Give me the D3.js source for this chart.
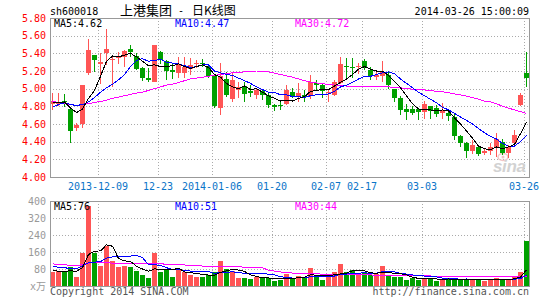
<!DOCTYPE html>
<html>
<head>
<meta charset="utf-8">
<script src="https://cdn.jsdelivr.net/npm/d3@7"></script>
<style>
body { margin: 0; background: #fff; }
svg text { font-family: "DejaVu Sans Mono", "Noto Sans CJK SC", monospace; font-size: 10px; }
</style>
</head>
<body>
<svg id="chart" width="545" height="300"></svg>
<script>
// trading days shown (80 candles)
const dates = [
  "2013-11-27","2013-11-28","2013-11-29","2013-12-02","2013-12-03","2013-12-04","2013-12-05","2013-12-06","2013-12-09","2013-12-10",
  "2013-12-11","2013-12-12","2013-12-13","2013-12-16","2013-12-17","2013-12-18","2013-12-19","2013-12-20","2013-12-23","2013-12-24",
  "2013-12-25","2013-12-26","2013-12-27","2013-12-30","2013-12-31","2014-01-02","2014-01-03","2014-01-06","2014-01-07","2014-01-08",
  "2014-01-09","2014-01-10","2014-01-13","2014-01-14","2014-01-15","2014-01-16","2014-01-17","2014-01-20","2014-01-21","2014-01-22",
  "2014-01-23","2014-01-24","2014-01-27","2014-01-28","2014-01-29","2014-01-30","2014-02-07","2014-02-10","2014-02-11","2014-02-12",
  "2014-02-13","2014-02-14","2014-02-17","2014-02-18","2014-02-19","2014-02-20","2014-02-21","2014-02-24","2014-02-25","2014-02-26",
  "2014-02-27","2014-02-28","2014-03-03","2014-03-04","2014-03-05","2014-03-06","2014-03-07","2014-03-10","2014-03-11","2014-03-12",
  "2014-03-13","2014-03-14","2014-03-17","2014-03-18","2014-03-19","2014-03-20","2014-03-21","2014-03-24","2014-03-25","2014-03-26"
];

const open = [
  4.83,4.83,4.86,4.77,4.55,4.60,5.18,5.38,5.28,5.40,
  5.32,5.35,5.36,5.45,5.37,5.23,5.12,5.08,5.42,5.31,
  5.21,5.18,5.18,5.22,5.28,5.29,5.26,5.14,4.78,5.11,
  4.88,4.99,5.03,4.97,4.93,4.97,4.93,4.82,4.82,4.83,
  4.96,4.91,4.93,4.92,5.06,5.04,4.95,4.93,5.06,5.26,
  5.24,5.24,5.31,5.21,5.13,5.14,5.15,5.00,4.90,4.77,
  4.77,4.77,4.74,4.80,4.78,4.73,4.72,4.68,4.46,4.39,
  4.30,4.34,4.27,4.30,4.33,4.40,4.27,4.39,4.82,5.18
];
const high = [
  4.95,4.95,4.94,4.78,4.61,5.04,5.56,5.38,5.40,5.68,
  5.38,5.42,5.44,5.50,5.40,5.25,5.23,5.50,5.43,5.32,
  5.28,5.36,5.36,5.35,5.33,5.34,5.27,5.15,5.29,5.19,
  5.19,5.08,5.08,5.04,5.00,5.00,4.95,4.83,4.87,5.04,
  5.01,5.06,4.98,5.16,5.10,5.05,4.99,5.10,5.36,5.35,
  5.35,5.29,5.34,5.25,5.21,5.31,5.19,5.00,4.92,4.83,
  4.80,4.78,4.86,4.80,4.81,4.84,4.74,4.71,4.47,4.40,
  4.42,4.35,4.32,4.38,4.50,4.43,4.36,4.53,4.95,5.41
];
const low = [
  4.76,4.80,4.79,4.39,4.52,4.55,5.16,5.19,5.05,5.27,
  5.02,5.28,5.25,5.36,5.21,5.09,5.08,5.07,5.28,5.10,
  5.11,5.12,5.12,5.15,5.23,5.24,5.12,4.78,4.70,4.91,
  4.85,4.89,4.85,4.91,4.88,4.87,4.78,4.75,4.76,4.81,
  4.89,4.85,4.85,4.88,4.98,4.89,4.85,4.92,5.05,5.10,
  5.12,5.17,5.21,5.10,5.10,5.08,5.00,4.85,4.70,4.64,
  4.70,4.64,4.66,4.66,4.68,4.66,4.63,4.42,4.34,4.21,
  4.26,4.24,4.25,4.25,4.23,4.25,4.21,4.34,4.80,5.02
];
const close = [
  4.86,4.85,4.85,4.52,4.59,5.04,5.44,5.32,5.30,5.45,
  5.34,5.37,5.43,5.42,5.22,5.12,5.10,5.49,5.33,5.20,
  5.19,5.27,5.24,5.27,5.29,5.28,5.14,4.80,5.14,4.93,
  5.10,5.02,4.94,4.95,4.98,4.93,4.82,4.79,4.81,4.98,
  4.91,4.95,4.91,5.08,5.04,4.97,4.96,5.08,5.28,5.24,
  5.23,5.26,5.23,5.14,5.16,5.19,5.04,4.89,4.76,4.74,
  4.72,4.74,4.83,4.75,4.71,4.76,4.69,4.46,4.39,4.30,
  4.36,4.26,4.30,4.34,4.43,4.27,4.34,4.48,4.93,5.12
];

const ma5 = [
  4.85,4.84,4.85,4.78,4.73,4.77,4.89,4.98,5.14,5.31,
  5.37,5.36,5.38,5.40,5.36,5.31,5.26,5.27,5.25,5.25,
  5.26,5.28,5.25,5.23,5.25,5.27,5.24,5.16,5.13,5.06,
  5.02,5.00,5.03,4.99,5.00,4.96,4.92,4.89,4.86,4.87,
  4.86,4.89,4.91,4.97,4.98,4.99,4.99,5.03,5.07,5.11,
  5.16,5.22,5.25,5.22,5.20,5.20,5.15,5.08,5.01,4.92,
  4.83,4.77,4.76,4.76,4.75,4.76,4.75,4.67,4.60,4.52,
  4.44,4.35,4.32,4.31,4.34,4.32,4.34,4.37,4.49,4.62
];
const ma10 = [
  4.79,4.82,4.84,4.82,4.81,4.82,4.85,4.90,4.96,5.01,
  5.05,5.10,5.16,5.25,5.32,5.34,5.31,5.32,5.33,5.30,
  5.29,5.28,5.26,5.24,5.25,5.27,5.27,5.20,5.18,5.16,
  5.15,5.12,5.09,5.06,5.02,4.99,4.96,4.96,4.93,4.93,
  4.91,4.91,4.90,4.92,4.93,4.93,4.94,4.97,5.02,5.04,
  5.07,5.11,5.14,5.14,5.16,5.18,5.19,5.17,5.11,5.06,
  5.01,4.96,4.92,4.88,4.84,4.79,4.76,4.72,4.68,4.64,
  4.60,4.55,4.50,4.46,4.43,4.38,4.35,4.35,4.40,4.47
];
const ma30 = [
  4.86,4.84,4.83,4.82,4.81,4.82,4.83,4.845,4.855,4.87,
  4.89,4.905,4.92,4.935,4.95,4.96,4.98,5.00,5.02,5.04,
  5.05,5.07,5.09,5.11,5.12,5.13,5.14,5.15,5.16,5.17,
  5.18,5.185,5.19,5.195,5.20,5.20,5.19,5.175,5.16,5.145,
  5.13,5.11,5.09,5.075,5.065,5.055,5.05,5.04,5.035,5.03,
  5.03,5.03,5.03,5.025,5.02,5.02,5.02,5.015,5.01,5.00,
  4.995,4.99,4.985,4.98,4.97,4.965,4.955,4.94,4.93,4.915,
  4.90,4.88,4.86,4.85,4.83,4.80,4.78,4.76,4.74,4.72
];

// volume, 万手
const volume = [
  64,72,72,91,44,154,378,154,96,188,
  119,91,96,88,72,53,38,154,67,77,
  44,80,64,53,44,41,53,64,119,80,
  72,38,36,33,44,38,38,22,28,56,
  38,49,38,85,44,28,44,64,104,64,
  77,56,60,53,56,96,49,44,44,28,
  38,28,38,38,25,33,33,33,28,33,
  33,28,22,28,38,28,33,44,67,213
];
const volMa5 = [
  72,70,69,72,69,87,148,164,165,194,
  187,130,118,116,93,80,69,81,77,78,
  76,84,66,64,57,56,51,51,64,71,
  78,75,69,52,45,38,38,35,34,36,
  36,39,42,53,51,49,48,53,57,61,
  71,73,72,62,60,64,63,60,58,52,
  41,36,35,34,33,32,33,32,30,32,
  32,31,29,29,30,29,30,34,42,76
];
const volMa10 = [
  91,89,86,82,80,95,110,112,115,131,
  137,139,141,141,144,134,100,100,97,86,
  78,77,74,70,67,66,68,59,64,64,
  67,63,60,58,58,58,56,52,43,41,
  37,38,38,44,44,43,43,47,55,56,
  60,60,63,59,61,67,68,66,60,56,
  52,50,47,46,43,37,35,34,32,33,
  32,32,31,30,31,30,30,32,35,51
];
const volMa30 = [
  104,102,100,97,97,100,108,110,109,109,
  108,108,108,108,108,107,106,105,104,103,
  101,100,99,97,96,94,93,92,93,93,
  91,90,89,88,86,85,75,70,66,63,
  61,60,59,58,57,56,55,55,55,54,
  54,53,52,52,51,51,51,51,50,50,
  49,48,48,47,47,46,46,45,45,45,
  45,45,44,44,44,44,44,44,44,44
];

const priceTicks = [4.0, 4.2, 4.4, 4.6, 4.8, 5.0, 5.2, 5.4, 5.6, 5.8];
const volTicks = [0, 80, 160, 240, 320, 400];
const tickDates = ["2013-12-09","2013-12-23","2014-01-06","2014-01-20","2014-02-07","2014-02-17","2014-03-03","2014-03-26"];
const tickLabels = ["2013-12-09","12-23","2014-01-06","01-20","02-07","02-17","03-03","03-26"];

const UP = "#ff5555", DOWN = "#00a000";
const GRID = "#aaa", FRAME = "#999";

const svg = d3.select("#chart");
svg.append("rect").attr("width", 545).attr("height", 300).attr("fill", "#fff");

const left = 50, right = 529;
const pTop = 18, pBottom = 177;
const vTop = 201, vBottom = 286;

const x = d3.scaleBand().domain(dates).range([49, 529])
    .paddingInner(1 / 6).paddingOuter(1 / 12);
const xc = d => x(d) + x.bandwidth() / 2;

const yP = d3.scaleLinear().domain([4.0, 5.8]).range([pBottom, pTop]);
const yV = d3.scaleLinear().domain([0, 400]).range([vBottom, vTop]);

const crisp = v => Math.round(v) + 0.5;

// grid lines
const grid = svg.append("g")
    .attr("stroke", GRID)
    .attr("stroke-dasharray", "1,2")
    .attr("shape-rendering", "crispEdges");

grid.selectAll(".hp").data(priceTicks.slice(1, -1)).join("line")
    .attr("x1", left).attr("x2", right)
    .attr("y1", d => crisp(yP(d))).attr("y2", d => crisp(yP(d)));

grid.selectAll(".hv").data(volTicks.slice(1, -1)).join("line")
    .attr("class", "hv")
    .attr("x1", left).attr("x2", right)
    .attr("y1", d => crisp(yV(d))).attr("y2", d => crisp(yV(d)));

tickDates.forEach(d => {
    const gx = crisp(xc(d) - 2);
    grid.append("line").attr("x1", gx).attr("x2", gx).attr("y1", pTop).attr("y2", pBottom);
    grid.append("line").attr("x1", gx).attr("x2", gx).attr("y1", vTop).attr("y2", vBottom);
});

// sina watermark
const wm = svg.append("g");
wm.append("ellipse").attr("cx", 503).attr("cy", 157).attr("rx", 5).attr("ry", 3.5)
    .attr("fill", "none").attr("stroke", "#f2c6c6").attr("stroke-width", 1.5);
wm.append("circle").attr("cx", 503).attr("cy", 157).attr("r", 1.5).attr("fill", "#f2c6c6");
wm.append("text").attr("x", 493).attr("y", 172)
    .attr("textLength", 33)
    .style("font-family", "'Liberation Sans', Arial, sans-serif")
    .style("font-size", "17px").style("font-weight", "bold").style("font-style", "italic")
    .attr("fill", "#d2d2d2").text("sina");

// volume bars
svg.append("g").attr("shape-rendering", "crispEdges")
    .selectAll("rect").data(dates).join("rect")
    .attr("x", d => xc(d) - 2)
    .attr("width", 5)
    .attr("y", (d, i) => yV(volume[i]))
    .attr("height", (d, i) => yV(0) - yV(volume[i]))
    .attr("fill", (d, i) => close[i] >= open[i] ? UP : DOWN);

// candles
const candles = svg.append("g").attr("shape-rendering", "crispEdges")
    .selectAll("g").data(dates).join("g");

candles.append("line")
    .attr("x1", d => xc(d) + 0.5).attr("x2", d => xc(d) + 0.5)
    .attr("y1", (d, i) => yP(high[i])).attr("y2", (d, i) => yP(low[i]))
    .attr("stroke", (d, i) => close[i] >= open[i] ? UP : DOWN);

candles.append("rect")
    .attr("x", d => xc(d) - 2)
    .attr("width", 5)
    .attr("y", (d, i) => yP(Math.max(open[i], close[i])))
    .attr("height", (d, i) => Math.max(1, Math.abs(yP(open[i]) - yP(close[i]))))
    .attr("fill", (d, i) => close[i] >= open[i] ? UP : DOWN);

// moving averages
function maLine(yScale, values, color) {
    const line = d3.line()
        .x((d, i) => xc(dates[i]) + 0.5)
        .y(d => yScale(d));
    svg.append("path")
        .attr("d", line(values))
        .attr("fill", "none")
        .attr("stroke", color)
        .attr("stroke-width", 1)
        .attr("shape-rendering", "crispEdges");
}
maLine(yP, ma30, "#ff00ff");
maLine(yP, ma10, "#0000ff");
maLine(yP, ma5, "#000");
maLine(yV, volMa30, "#ff00ff");
maLine(yV, volMa10, "#0000ff");
maLine(yV, volMa5, "#000");

// frames
svg.append("rect")
    .attr("x", left + 0.5).attr("y", pTop + 0.5)
    .attr("width", right - left).attr("height", pBottom - pTop)
    .attr("fill", "none").attr("stroke", FRAME).attr("shape-rendering", "crispEdges");
svg.append("rect")
    .attr("x", left + 0.5).attr("y", vTop + 0.5)
    .attr("width", right - left).attr("height", vBottom - vTop)
    .attr("fill", "none").attr("stroke", FRAME).attr("shape-rendering", "crispEdges");

// axes
svg.append("g")
    .attr("transform", `translate(${left},0)`)
    .call(d3.axisLeft(yP).tickValues(priceTicks).tickFormat(d3.format(".2f")).tickSize(0).tickPadding(4))
    .call(g => g.select(".domain").remove())
    .call(g => g.selectAll("text").attr("fill", "#f00"));

svg.append("g")
    .attr("transform", `translate(${left},0)`)
    .call(d3.axisLeft(yV).tickValues(volTicks).tickFormat(d => d === 0 ? "x万" : d).tickSize(0).tickPadding(4))
    .call(g => g.select(".domain").remove())
    .call(g => g.selectAll("text").attr("fill", "#999"));

svg.append("g")
    .attr("transform", `translate(-2,${pBottom})`)
    .call(d3.axisBottom(x).tickValues(tickDates).tickFormat((d, i) => tickLabels[i]).tickSize(0).tickPadding(6))
    .call(g => g.select(".domain").remove())
    .call(g => g.selectAll("text").attr("fill", "#0a74c8"));

// header
svg.append("text").attr("x", 50).attr("y", 15).attr("fill", "#000").text("sh600018");
svg.append("text").attr("x", 120).attr("y", 15).attr("fill", "#000")
    .style("font-family", "'Noto Sans CJK SC', sans-serif").style("font-size", "13px").text("上港集团");
svg.append("text").attr("x", 178).attr("y", 14).attr("fill", "#000").text("-");
svg.append("text").attr("x", 192).attr("y", 15).attr("fill", "#000")
    .style("font-family", "'Noto Sans CJK SC', sans-serif").style("font-size", "12px").text("日K线图");
svg.append("text").attr("x", right).attr("y", 15).attr("text-anchor", "end").attr("fill", "#000")
    .text("2014-03-26 15:00:09");

// MA legends
const last = a => a[a.length - 1];
const legends = [
    { x: 54, label: "MA5:", color: "#000", p: last(ma5).toFixed(2), v: last(volMa5) },
    { x: 175, label: "MA10:", color: "#0000ff", p: last(ma10).toFixed(2), v: last(volMa10) },
    { x: 295, label: "MA30:", color: "#ff00ff", p: last(ma30).toFixed(2), v: last(volMa30) }
];
legends.forEach(l => {
    svg.append("text").attr("x", l.x).attr("y", 27).attr("fill", l.color).text(l.label + l.p);
    svg.append("text").attr("x", l.x).attr("y", 210).attr("fill", l.color).text(l.label + l.v);
});

// footer
svg.append("text").attr("x", 50).attr("y", 295).attr("fill", "#555").text("Copyright 2014 SINA.COM");
svg.append("text").attr("x", right).attr("y", 295).attr("text-anchor", "end").attr("fill", "#555")
    .text("http://finance.sina.com.cn");
</script>
</body>
</html>
